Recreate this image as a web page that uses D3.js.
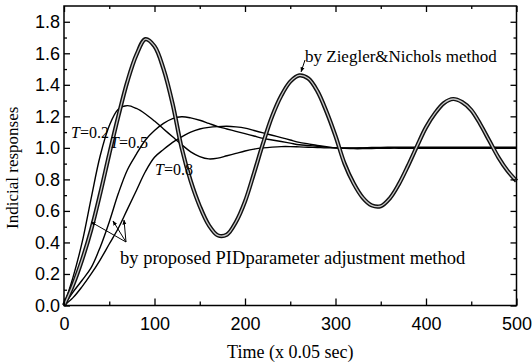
<!DOCTYPE html>
<html>
<head>
<meta charset="utf-8">
<script src="https://cdn.jsdelivr.net/npm/d3@7"></script>
<style>
  body { margin: 0; background: #fff; }
  svg { display: block; }
</style>
</head>
<body>
<div id="chart"></div>
<script>
// time axis (x 0.05 sec)
const time = [0, 10, 20, 30, 40, 50, 60, 70, 80, 90, 100, 110, 120, 130, 140, 150, 160, 170, 180, 190, 200,
  210, 220, 230, 240, 250, 260, 270, 280, 290, 300, 310, 320, 330, 340, 350, 360, 370, 380, 390, 400,
  410, 420, 430, 440, 450, 460, 470, 480, 490, 500];

// Ziegler & Nichols response
const zieglerNichols = [0, 0.13, 0.29, 0.48, 0.71, 0.96, 1.2, 1.42, 1.59, 1.69, 1.645, 1.5, 1.28, 1.0, 0.79,
  0.63, 0.51, 0.445, 0.45, 0.53, 0.66, 0.84, 1.03, 1.2, 1.33, 1.42, 1.46, 1.44, 1.36, 1.23, 1.075,
  0.9, 0.775, 0.685, 0.635, 0.63, 0.68, 0.77, 0.885, 1.01, 1.13, 1.22, 1.285, 1.31, 1.29, 1.24,
  1.15, 1.045, 0.94, 0.855, 0.79];

// proposed method, T = 0.2 / 0.5 / 0.8
const responseT02 = [0, 0.18, 0.4, 0.68, 0.95, 1.14, 1.245, 1.268, 1.25, 1.215, 1.17, 1.12, 1.07, 1.02, 0.975,
  0.945, 0.93, 0.935, 0.95, 0.965, 0.98, 0.992, 1.0, 1.005, 1.008, 1.008, 1.006, 1.004, 1.002, 1.0, 1.0,
  1.0, 1.0, 1.0, 1.0, 1.0, 1.0, 1.0, 1.0, 1.0, 1.0, 1.0, 1.0, 1.0, 1.0, 1.0, 1.0, 1.0, 1.0, 1.0, 1.0];
const responseT05 = [0, 0.085, 0.16, 0.24, 0.37, 0.53, 0.71, 0.86, 0.96, 1.05, 1.11, 1.155, 1.185, 1.197, 1.19,
  1.175, 1.155, 1.135, 1.12, 1.105, 1.09, 1.075, 1.06, 1.05, 1.04, 1.03, 1.02, 1.015, 1.01, 1.005, 1.0,
  0.997, 0.995, 0.995, 0.996, 0.997, 0.998, 0.998, 0.998, 0.998, 0.998, 0.998, 0.998, 0.998, 0.998, 0.998, 0.998, 0.998, 0.998, 0.998, 0.998];
const responseT08 = [0, 0.05, 0.12, 0.2, 0.29, 0.39, 0.49, 0.61, 0.73, 0.85, 0.94, 0.99, 1.035, 1.07, 1.1,
  1.12, 1.13, 1.135, 1.137, 1.133, 1.125, 1.11, 1.095, 1.08, 1.065, 1.05, 1.035, 1.025, 1.015, 1.007, 1.0,
  0.998, 0.998, 1.0, 1.002, 1.003, 1.004, 1.004, 1.004, 1.004, 1.004, 1.004, 1.004, 1.004, 1.004, 1.004, 1.004, 1.004, 1.004, 1.004, 1.004];

const xTicks = [0, 100, 200, 300, 400, 500];
const yTicks = [0, 0.2, 0.4, 0.6, 0.8, 1.0, 1.2, 1.4, 1.6, 1.8];
const xMinor = [50, 150, 250, 350, 450];
const yMinor = [0.1, 0.3, 0.5, 0.7, 0.9, 1.1, 1.3, 1.5, 1.7];

const width = 532;
const height = 364;
const margin = {left: 64, right: 15.5, top: 6, bottom: 58.5};
const serif = '"Liberation Serif", "Times New Roman", serif';
const sans = '"Liberation Sans", Arial, sans-serif';

/* Scale */
const xScale = d3.scaleLinear().domain([0, 500]).range([margin.left, width - margin.right]);
const yScale = d3.scaleLinear().domain([0, 1.9]).range([height - margin.bottom, margin.top]);

const svg = d3.select('#chart').append('svg')
  .attr('width', width)
  .attr('height', height)
  .style('font-family', sans);

const defs = svg.append('defs');
defs.append('marker')
  .attr('id', 'arrow')
  .attr('viewBox', '0 0 10 10')
  .attr('refX', 9).attr('refY', 5)
  .attr('markerWidth', 5).attr('markerHeight', 5)
  .attr('orient', 'auto')
  .append('path')
  .attr('d', 'M0,1 L10,5 L0,9 Z')
  .attr('fill', '#000');

/* Lines */
const line = d3.line()
  .x((d, i) => xScale(time[i]))
  .y(d => yScale(d))
  .curve(d3.curveCatmullRom);

const plot = svg.append('g');

[responseT02, responseT05, responseT08].forEach(series => {
  plot.append('path')
    .attr('d', line(series))
    .attr('fill', 'none')
    .attr('stroke', '#000')
    .attr('stroke-width', 1.4);
});

// heavy double line for Z-N
plot.append('path')
  .attr('d', line(zieglerNichols))
  .attr('fill', 'none')
  .attr('stroke', '#111')
  .attr('stroke-width', 4.2);
plot.append('path')
  .attr('d', line(zieglerNichols))
  .attr('fill', 'none')
  .attr('stroke', '#c8c8c8')
  .attr('stroke-width', 1.3);

/* Axes */
const axisStyle = g => {
  g.select('.domain').remove();
  g.selectAll('line').attr('stroke', '#000').attr('stroke-width', 1.3);
};

svg.append('g')
  .attr('transform', `translate(0,${height - margin.bottom})`)
  .call(d3.axisBottom(xScale).tickValues(xTicks).tickSize(-7).tickPadding(12).tickFormat(d3.format('d')))
  .call(axisStyle)
  .call(g => g.selectAll('text').style('font-size', '18px').style('font-family', sans).attr('fill', '#000'));

svg.append('g')
  .attr('transform', `translate(0,${height - margin.bottom})`)
  .call(d3.axisBottom(xScale).tickValues(xMinor).tickSize(-4).tickFormat(''))
  .call(axisStyle);

svg.append('g')
  .attr('transform', `translate(${margin.left},0)`)
  .call(d3.axisLeft(yScale).tickValues(yTicks).tickSize(-6).tickPadding(4).tickFormat(d3.format('.1f')))
  .call(axisStyle)
  .call(g => g.selectAll('text').style('font-size', '18px').style('font-family', sans).attr('fill', '#000'));

svg.append('g')
  .attr('transform', `translate(${margin.left},0)`)
  .call(d3.axisLeft(yScale).tickValues(yMinor).tickSize(-3).tickFormat(''))
  .call(axisStyle);

// mirrored ticks on top and right
svg.append('g')
  .attr('transform', `translate(0,${margin.top})`)
  .call(d3.axisTop(xScale).tickValues(xTicks).tickSize(-6).tickFormat(''))
  .call(axisStyle);
svg.append('g')
  .attr('transform', `translate(0,${margin.top})`)
  .call(d3.axisTop(xScale).tickValues(xMinor).tickSize(-3).tickFormat(''))
  .call(axisStyle);
svg.append('g')
  .attr('transform', `translate(${width - margin.right},0)`)
  .call(d3.axisRight(yScale).tickValues(yTicks).tickSize(-6).tickFormat(''))
  .call(axisStyle);
svg.append('g')
  .attr('transform', `translate(${width - margin.right},0)`)
  .call(d3.axisRight(yScale).tickValues(yMinor).tickSize(-3).tickFormat(''))
  .call(axisStyle);

// frame
svg.append('rect')
  .attr('x', margin.left)
  .attr('y', margin.top)
  .attr('width', width - margin.left - margin.right)
  .attr('height', height - margin.top - margin.bottom)
  .attr('fill', 'none')
  .attr('stroke', '#000')
  .attr('stroke-width', 1.5);

/* Axis titles */
svg.append('text')
  .attr('x', (margin.left + width - margin.right) / 2)
  .attr('y', 358)
  .attr('text-anchor', 'middle')
  .style('font-family', serif)
  .style('font-size', '18px')
  .text('Time (x 0.05 sec)');

svg.append('text')
  .attr('transform', `translate(18,${(margin.top + height - margin.bottom) / 2 + 12}) rotate(-90)`)
  .attr('text-anchor', 'middle')
  .style('font-family', serif)
  .style('font-size', '17px')
  .text('Indicial responses');

/* Annotations */
const tLabel = (x, y, val) => {
  const t = svg.append('text')
    .attr('x', x).attr('y', y)
    .style('font-family', serif)
    .style('font-size', '16px');
  t.append('tspan').style('font-style', 'italic').text('T');
  t.append('tspan').text('=' + val);
};
tLabel(71, 138, '0.2');
tLabel(110, 148, '0.5');
tLabel(155, 175, '0.8');

svg.append('text')
  .attr('x', 305).attr('y', 62)
  .style('font-family', serif)
  .style('font-size', '17px')
  .text('by Ziegler&Nichols method');

svg.append('line')
  .attr('x1', 305).attr('y1', 60)
  .attr('x2', xScale(262)).attr('y2', yScale(1.47) - 2)
  .attr('stroke', '#000').attr('stroke-width', 1)
  .attr('marker-end', 'url(#arrow)');

svg.append('text')
  .attr('x', 120).attr('y', 264)
  .style('font-family', serif)
  .style('font-size', '18.5px')
  .text('by proposed PIDparameter adjustment method');

[[91, 222], [113, 221], [124, 220]].forEach(p => {
  svg.append('line')
    .attr('x1', 126).attr('y1', 242)
    .attr('x2', p[0]).attr('y2', p[1])
    .attr('stroke', '#000').attr('stroke-width', 1)
    .attr('marker-end', 'url(#arrow)');
});
</script>
</body>
</html>
